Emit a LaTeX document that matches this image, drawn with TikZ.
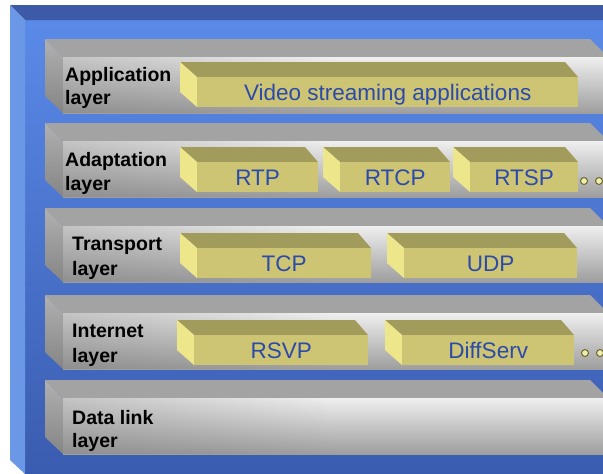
\documentclass[tikz,border=0pt]{standalone}
\usepackage{fontspec}
\setmainfont{Liberation Sans}
\usetikzlibrary{fadings}
\definecolor{topband}{HTML}{3C5AA6}
\definecolor{leftstrip}{HTML}{6A98E6}
\definecolor{bgtop}{HTML}{5A8AE8}
\definecolor{bgbot}{HTML}{3A5CB0}
\definecolor{slabtopc}{HTML}{A3A3A3}
\definecolor{slabft}{HTML}{EFEFEF}
\definecolor{slabfb}{HTML}{9E9E9E}
\definecolor{slablt}{HTML}{B0B0B0}
\definecolor{slablb}{HTML}{858585}
\definecolor{ytopc}{HTML}{A29C5C}
\definecolor{yfrontc}{HTML}{CDC574}
\definecolor{yleftc}{HTML}{EEE68A}
\definecolor{txtblue}{HTML}{2C4AAA}
\definecolor{dotline}{HTML}{6A6630}
\definecolor{dotfill}{HTML}{EEEEAA}
\newcommand\drawslab[1]{%
  \fill[slabtopc] (45,#1) -- (590,#1) -- (608,{#1+18}) -- (63,{#1+18}) -- cycle;
  \shade[top color=slablt, bottom color=slablb] (45,#1) -- (63,{#1+18}) -- (63,{#1+74}) -- (45,{#1+57}) -- cycle;
  \shade[top color=slabft, bottom color=slabfb] (63,{#1+18}) rectangle (610,{#1+74});
  \fill[black!55, opacity=0.35, path fading=east] (63,{#1+18}) rectangle (330,{#1+74});
}
\newcommand\ybox[5]{%
  \fill[ytopc] (#2,#4) -- ({#3-13},#4) -- (#3,{#4+15}) -- ({#2+17},{#4+15}) -- cycle;
  \fill[yleftc] (#2,#4) -- ({#2+17},{#4+15}) -- ({#2+17},{#4+45}) -- (#2,{#4+30}) -- cycle;
  \node[yfront, anchor=north west, minimum width={#3-#2-17}, minimum height=30] (#1) at ({#2+17},{#4+15}) {#5};
}
\begin{document}
\begin{tikzpicture}[x=1pt,y=-1pt,
  lab/.style={font=\fontsize{19.5}{23}\selectfont\bfseries, text=black, inner sep=0pt, anchor=base west},
  yfront/.style={fill=yfrontc, inner sep=0pt, text=txtblue, font=\fontsize{22.5}{26}\selectfont, text height=16pt, text depth=0pt},
  dotc/.style={circle, draw=dotline, fill=dotfill, line width=1pt, inner sep=0pt, minimum size=7pt}]
\useasboundingbox (0,0) rectangle (603,474);
\begin{scope}
\clip (0,0) rectangle (603,474);
\fill[white] (0,0) rectangle (603,474);
\shade[top color=bgtop, bottom color=bgbot] (25,20) rectangle (620,474);
\fill[topband] (10,5) -- (620,5) -- (620,20) -- (25,20) -- cycle;
\fill[leftstrip] (10,5) -- (25,20) -- (25,474) -- (10,460) -- cycle;
\drawslab{39}
\drawslab{123}
\drawslab{208}
\drawslab{295}
\drawslab{380}
\end{scope}
% labels
\node[lab] (l1a) at (65,81) {Application};
\node[lab] (l1b) at (65,104) {layer};
\node[lab] (l2a) at (65,166) {Adaptation};
\node[lab] (l2b) at (65,190.5) {layer};
\node[lab] (l3a) at (72,250.5) {Transport};
\node[lab] (l3b) at (72,275.5) {layer};
\node[lab] (l4a) at (72,337) {Internet};
\node[lab] (l4b) at (72,362) {layer};
\node[lab] (l5a) at (72,424) {Data link};
\node[lab] (l5b) at (72,447.5) {layer};
% yellow boxes
\ybox{video}{180}{578}{62}{Video streaming applications}
\ybox{rtp}{180}{318}{147}{RTP}
\ybox{rtcp}{323}{450}{147}{RTCP}
\ybox{rtsp}{453}{578}{147}{RTSP}
\ybox{tcp}{180}{371}{233}{TCP}
\ybox{udp}{387}{577}{233}{UDP}
\ybox{rsvp}{177}{368}{320}{RSVP}
\ybox{diffserv}{385}{574}{320}{DiffServ}
% dots
\node[dotc] (d1) at (584,181) {};
\node[dotc] (d2) at (599,181) {};
\node[dotc] (d3) at (585,353) {};
\node[dotc] (d4) at (600,353) {};
\end{tikzpicture}
\end{document}
